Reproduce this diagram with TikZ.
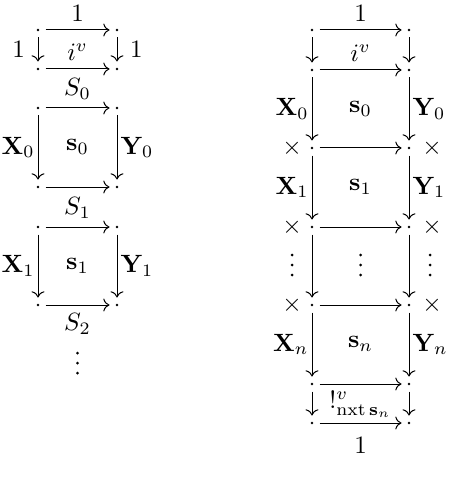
\documentclass[tikz,border=0pt]{standalone}
\usepackage{amsmath}
\usepackage{tikz-cd}
\begin{document}
\begin{tikzpicture}[x=0.4pt,y=-0.4pt,
  pt/.style={circle,inner sep=0pt,minimum size=5.6pt,
    path picture={\fill[black] (path picture bounding box.center) circle (0.55pt);}},
  vdotsnode/.style={rectangle,inner sep=0pt,minimum width=3pt,minimum height=10pt,
    path picture={\fill[black] (path picture bounding box.center) circle (0.6pt)
      ++(0,4pt) circle (0.6pt) ++(0,-8pt) circle (0.6pt);}},
  arr/.style={-{cm to},line width=0.4pt},
  lab/.style={inner sep=1.2pt},
  far/.style={inner sep=5pt},
  ]
\useasboundingbox (0,0) rectangle (448,486);

% ---------------- left diagram ----------------
\foreach \r/\y in {1/30,2/69,3/108,4/187,5/227,6/305}{
  \node[pt] (L\r a) at (38,\y) {};
  \node[pt] (L\r b) at (117,\y) {};
}
\draw[arr] (L1a) -- node[above] {$1$} (L1b);
\draw[arr] (L1a) -- node[left,far] {$1$} (L2a);
\draw[arr] (L1b) -- node[right,far] {$1$} (L2b);
\draw[arr] (L2a) -- node[above] {$i^v$} (L2b);
\draw[arr] (L3a) -- node[above] {$S_0$} (L3b);
\draw[arr] (L3a) -- node[left,lab] {$\mathbf{X}_0$} (L4a);
\draw[arr] (L3b) -- node[right,lab] {$\mathbf{Y}_0$} (L4b);
\node (Ls0) at (77.5,147) {$\mathbf{s}_0$};
\draw[arr] (L4a) -- (L4b);
\draw[arr] (L5a) -- node[above] {$S_1$} (L5b);
\draw[arr] (L5a) -- node[left,lab] {$\mathbf{X}_1$} (L6a);
\draw[arr] (L5b) -- node[right,lab] {$\mathbf{Y}_1$} (L6b);
\node (Ls1) at (77.5,266) {$\mathbf{s}_1$};
\draw[arr] (L6a) -- node[below] {$S_2$} (L6b);
\node[vdotsnode] (Ldots) at (77.5,363) {};

% ---------------- right diagram ----------------
\foreach \r/\y in {1/30,2/70,3/148,4/227,5/305,6/384,7/423}{
  \node[pt] (R\r a) at (312,\y) {};
  \node[pt] (R\r b) at (409,\y) {};
}
\draw[arr] (R1a) -- node[above] {$1$} (R1b);
\draw[arr] (R1a) -- (R2a);
\draw[arr] (R1b) -- (R2b);
\draw[arr] (R2a) -- node[above] {$i^v$} (R2b);
\draw[arr] (R2a) -- node[left,lab] {$\mathbf{X}_0$} (R3a);
\draw[arr] (R2b) -- node[right,lab] {$\mathbf{Y}_0$} (R3b);
\node (Rs0) at (360.5,109) {$\mathbf{s}_0$};
\draw[arr] (R3a) -- (R3b);
\draw[arr] (R3a) -- node[left,lab] {$\mathbf{X}_1$} (R4a);
\draw[arr] (R3b) -- node[right,lab] {$\mathbf{Y}_1$} (R4b);
\node (Rs1) at (360.5,187) {$\mathbf{s}_1$};
\draw[arr] (R4a) -- (R4b);
\draw[arr] (R4a) -- (R5a);
\draw[arr] (R4b) -- (R5b);
\node[vdotsnode] (RdL) at (292,265) {};
\node[vdotsnode] (RdC) at (360.5,265) {};
\node[vdotsnode] (RdR) at (430,265) {};
\draw[arr] (R5a) -- (R5b);
\draw[arr] (R5a) -- node[left,lab] {$\mathbf{X}_n$} (R6a);
\draw[arr] (R5b) -- node[right,lab] {$\mathbf{Y}_n$} (R6b);
\node (Rsn) at (360.5,344) {$\mathbf{s}_n$};
\draw[arr] (R6a) -- (R6b);
\draw[arr] (R6a) -- (R7a);
\draw[arr] (R6b) -- (R7b);
\draw[arr] (R7a) -- node[above,inner sep=2pt] {$!^v_{\mathrm{nxt}\,\mathbf{s}_n}$}
  node[below,inner sep=5.5pt] {$1$} (R7b);
\foreach \y/\n in {148/3,227/4,305/5}{
  \node (XL\n) at (292,\y) {$\times$};
  \node (XR\n) at (432,\y) {$\times$};
}
\end{tikzpicture}
\end{document}
